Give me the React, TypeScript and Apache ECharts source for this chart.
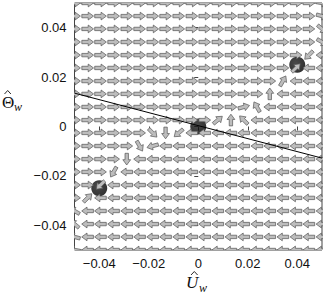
import React, { useEffect, useRef } from "react";
import * as echarts from "echarts";

// grid of arrow positions (U along x, Theta along y, rows from top to bottom)
const uGrid = [-0.05, -0.0447, -0.0395, -0.0342, -0.0289, -0.0237, -0.0184, -0.0132, -0.0079, -0.0026,
  0.0026, 0.0079, 0.0132, 0.0184, 0.0237, 0.0289, 0.0342, 0.0395, 0.0447, 0.05];
const thetaGrid = [0.05, 0.0447, 0.0395, 0.0342, 0.0289, 0.0237, 0.0184, 0.0132, 0.0079, 0.0026,
  -0.0026, -0.0079, -0.0132, -0.0184, -0.0237, -0.0289, -0.0342, -0.0395, -0.0447, -0.05];

// arrow direction in degrees (0 = right, 90 = up), one row per thetaGrid value
const arrowAngles = [
  [0, 0, 0, 0, 0, 0, 0, 0, 0, 0, 0, 0, 0, 0, 0, 0, 0, 0, 0, -10],
  [0, 0, 0, 0, 0, 0, 0, 0, 0, 0, 0, 0, 0, 0, 0, 0, 0, 0, 0, -15],
  [0, 0, 0, 0, 0, 0, 0, 0, 0, 0, 0, 0, 0, 0, 0, 0, 0, 0, 0, -40],
  [0, 0, 0, 0, 0, 0, 0, 0, 0, 0, 0, 0, 0, 0, 0, 0, 0, 0, 0, -30],
  [0, 0, 0, 0, 0, 0, 0, 0, 0, 0, 0, 0, 0, 0, 0, 0, 0, 0, -135, 180],
  [0, 0, 0, 0, 0, 0, 0, 0, 0, 0, 0, 0, 0, 0, 0, 0, 0, 45, 180, 180],
  [0, 0, 0, 0, 0, 0, 0, 0, 0, 0, 0, 0, 0, 0, 0, 0, 60, 180, 180, 180],
  [0, 0, 0, 0, 0, 0, 0, 0, 0, 0, 0, 0, 0, 0, 0, 90, 180, 180, 180, 180],
  [0, 0, 0, 0, 0, 0, 0, 0, 0, 0, 0, 0, 0, 15, 120, 180, 180, 180, 180, 180],
  [0, 0, 0, 0, 0, 0, 0, 0, 0, 0, 0, 40, 90, 135, 180, 180, 180, 180, 180, 180],
  [0, 0, 0, 0, 0, 0, -45, -90, -140, 180, 180, 180, 180, 180, 180, 180, 180, 180, 180, 180],
  [0, 0, 0, 0, 0, -60, -165, 180, 180, 180, 180, 180, 180, 180, 180, 180, 180, 180, 180, 180],
  [0, 0, 0, 0, -90, 180, 180, 180, 180, 180, 180, 180, 180, 180, 180, 180, 180, 180, 180, 180],
  [0, 0, 0, -120, 180, 180, 180, 180, 180, 180, 180, 180, 180, 180, 180, 180, 180, 180, 180, 180],
  [0, 0, -135, 180, 180, 180, 180, 180, 180, 180, 180, 180, 180, 180, 180, 180, 180, 180, 180, 180],
  [0, 45, 180, 180, 180, 180, 180, 180, 180, 180, 180, 180, 180, 180, 180, 180, 180, 180, 180, 180],
  [150, 180, 180, 180, 180, 180, 180, 180, 180, 180, 180, 180, 180, 180, 180, 180, 180, 180, 180, 180],
  [140, 180, 180, 180, 180, 180, 180, 180, 180, 180, 180, 180, 180, 180, 180, 180, 180, 180, 180, 180],
  [165, 180, 180, 180, 180, 180, 180, 180, 180, 180, 180, 180, 180, 180, 180, 180, 180, 180, 180, 180],
  [170, 180, 180, 180, 180, 180, 180, 180, 180, 180, 180, 180, 180, 180, 180, 180, 180, 180, 180, 180],
];

// fixed points
const fixedU = [-0.04, 0, 0.04];
const fixedTheta = [-0.025, 0, 0.025];

// separatrix line end points
const lineU = [-0.05, 0.05];
const lineTheta = [0.0135, -0.0128];

const tickValues = [-0.04, -0.02, 0, 0.02, 0.04];

// arrow outline, pointing right, centred on the origin (pixels)
const ARROW = [
  [-5.8, -1.7], [0.6, -1.7], [0.6, -3.9], [5.9, 0], [0.6, 3.9], [0.6, 1.7], [-5.8, 1.7],
];

const fmt = (v: number) => (Math.abs(v) < 1e-9 ? "0" : (v < 0 ? "\u2212" : "") + Math.abs(v).toFixed(2));

export default function App() {
  const ref = useRef<HTMLDivElement>(null);
  useEffect(() => {
    if (!ref.current) return;
    const chart = echarts.init(ref.current, null, { renderer: "svg" });

    const arrowData: number[][] = [];
    thetaGrid.forEach((t, j) => {
      uGrid.forEach((u, i) => {
        arrowData.push([u, t, arrowAngles[j][i]]);
      });
    });

    const axisCommon = {
      type: "value",
      min: -0.05,
      max: 0.05,
      splitLine: { show: false },
      axisLine: { show: false },
      axisTick: { show: true, inside: false, length: 4, customValues: tickValues, lineStyle: { color: "#444", width: 1 } },
      axisLabel: {
        customValues: tickValues,
        formatter: fmt,
        fontFamily: "Liberation Sans",
        fontSize: 13,
        color: "#111",
      },
    };

    const hatStyle = { stroke: "#111", lineWidth: 0.9, fill: "none" };

    chart.setOption({
      animation: false,
      backgroundColor: "#fff",
      grid: { left: 74.5, top: 3, width: 247.5, height: 247, show: true, borderColor: "#444", borderWidth: 1, backgroundColor: "transparent" },
      xAxis: { ...axisCommon, axisLabel: { ...axisCommon.axisLabel, margin: 7 } },
      yAxis: { ...axisCommon, axisLabel: { ...axisCommon.axisLabel, margin: 8 } },
      series: [
        {
          type: "scatter",
          data: fixedU.map((u, k) => [u, fixedTheta[k]]),
          symbol: "circle",
          symbolSize: 16,
          itemStyle: {
            color: {
              type: "radial", x: 0.4, y: 0.4, r: 0.6,
              colorStops: [{ offset: 0, color: "#1c1c1c" }, { offset: 1, color: "#000" }],
            },
          },
          z: 2,
          silent: true,
        },
        {
          type: "custom",
          clip: true,
          z: 3,
          silent: true,
          data: arrowData,
          renderItem: (params: any, api: any) => {
            const u = api.value(0);
            const t = api.value(1);
            const a = (api.value(2) * Math.PI) / 180;
            const p = api.coord([u, t]);
            const c = Math.cos(a);
            const s = Math.sin(a);
            const points = ARROW.map(([px, py]) => [p[0] + px * c + py * s, p[1] - px * s + py * c]);
            return {
              type: "polygon",
              shape: { points },
              style: { fill: "#bdbdbd", stroke: "#555", lineWidth: 0.7 },
            };
          },
        },
        {
          type: "line",
          data: lineU.map((u, k) => [u, lineTheta[k]]),
          showSymbol: false,
          lineStyle: { color: "#000", width: 1 },
          z: 4,
          silent: true,
        },
      ],
      graphic: [
        { type: "text", left: 2, top: 94, style: { text: "Θ", font: "17px 'Liberation Serif'", fill: "#111" } },
        { type: "polyline", shape: { points: [[4.5, 94], [7.7, 90.5], [10.9, 94]] }, style: hatStyle },
        { type: "text", left: 14, top: 101, style: { text: "w", font: "italic 12px 'Liberation Serif'", fill: "#111" } },
        { type: "text", left: 186, top: 274, style: { text: "U", font: "italic 17px 'Liberation Serif'", fill: "#111" } },
        { type: "polyline", shape: { points: [[191, 275], [194.3, 271.5], [197.6, 275]] }, style: hatStyle },
        { type: "text", left: 199, top: 282, style: { text: "w", font: "italic 12px 'Liberation Serif'", fill: "#111" } },
      ],
    });
    return () => chart.dispose();
  }, []);
  return <div ref={ref} style={{ position: "absolute", left: 0, top: 0, width: 327, height: 297 }} />;
}
